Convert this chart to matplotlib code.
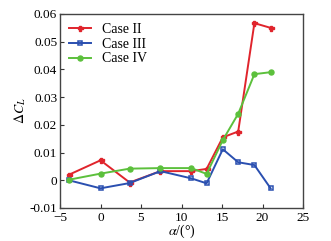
import matplotlib
matplotlib.use("Agg")
import matplotlib.pyplot as plt

alpha = [-3.9, 0.0, 3.6, 7.4, 11.2, 13.1, 15.1, 17.0, 19.0, 21.0]
case2 = [0.0020, 0.0072, -0.0008, 0.0033, 0.0033, 0.0041, 0.0155, 0.0176, 0.0567, 0.0550]
case3 = [0.0000, -0.0029, -0.0010, 0.0033, 0.0007, -0.0011, 0.0112, 0.0065, 0.0055, -0.0029]
case4 = [0.0002, 0.0024, 0.0042, 0.0044, 0.0044, 0.0023, 0.0145, 0.0240, 0.0383, 0.0390]
labels = ["Case II", "Case III", "Case IV"]
xticks = [-5, 0, 5, 10, 15, 20, 25]
yticks = [-0.01, 0, 0.01, 0.02, 0.03, 0.04, 0.05, 0.06]
yticklabels = ["-0.01", "0", "0.01", "0.02", "0.03", "0.04", "0.05", "0.06"]

plt.rcParams['font.family'] = ['Liberation Serif', 'DejaVu Serif']
plt.rcParams['mathtext.fontset'] = 'stix'

fig = plt.figure(figsize=(3.31, 2.41), dpi=100)
ax = fig.add_axes([60/331, 1 - 208/241, (303-60)/331, (208-14)/241])

ax.plot(alpha, case2, color='#e0242c', lw=1.4, marker='P', ms=3.6, label=labels[0])
ax.plot(alpha, case3, color='#2a4fb0', lw=1.4, marker='s', ms=3.4, mfc='none', mew=1.1, label=labels[1])
ax.plot(alpha, case4, color='#5cc03c', lw=1.4, marker='o', ms=3.6, label=labels[2])

ax.set_xlim(-5, 25)
ax.set_ylim(-0.01, 0.06)
ax.set_xticks(xticks)
ax.set_yticks(yticks)
ax.set_yticklabels(yticklabels)
ax.tick_params(direction='in', length=3, width=0.8, labelsize=9.5, color='#333333')
ax.tick_params(axis='x', pad=3)
ax.tick_params(axis='y', pad=2)
for s in ax.spines.values():
    s.set_linewidth(1.0)
    s.set_color('#444444')

ax.set_xlabel(r'$\alpha$/(°)', fontsize=10, labelpad=-1)
ax.set_ylabel(r'$\Delta C_L$', fontsize=10, labelpad=1)

ax.legend(loc='upper left', frameon=False, fontsize=10, handlelength=1.6,
          borderaxespad=0.25, labelspacing=0.12, handletextpad=0.8,
          bbox_to_anchor=(0.0, 1.0))

fig.savefig('out.png', dpi=100)
